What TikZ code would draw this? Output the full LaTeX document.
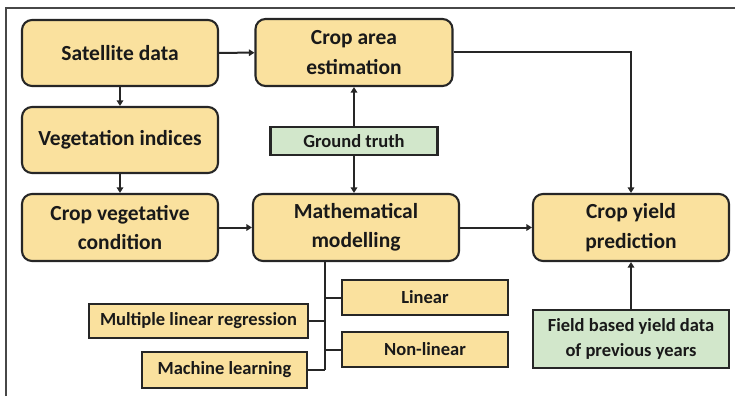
\documentclass[tikz,border=0pt]{standalone}
\usepackage{fontspec}
\setmainfont{Carlito}
\usetikzlibrary{arrows.meta}
\definecolor{boxfill}{HTML}{FAE19E}
\definecolor{gtfill}{HTML}{D2E7CB}
\definecolor{edge}{HTML}{262626}
\tikzset{
  bigbox/.style={draw=edge, line width=2.1pt, fill=boxfill, rounded corners=10pt,
    align=center, inner sep=0pt, text=black!90, font=\bfseries\fontsize{21.5}{29.5}\selectfont},
  smallbox/.style={draw=edge, line width=2.1pt, fill=boxfill, align=center,
    inner sep=0pt, text=black!90, font=\bfseries\fontsize{18.5}{25.5}\selectfont},
  greenbox/.style={smallbox, fill=gtfill},
  link/.style={draw=edge, line width=2pt},
  arr/.style={link, -{Triangle[width=6.5pt,length=5.5pt]}},
}
\begin{document}
\begin{tikzpicture}[x=1pt,y=-1pt]
\useasboundingbox (0,0) rectangle (735,396);
% frame
\draw[edge!85, line width=1.6pt] (6,396) -- (6,8) -- (735,8);

% main boxes
\node[bigbox, minimum width=196pt, minimum height=66pt] (sat) at (120,53) {Satellite data};
\node[bigbox, minimum width=197pt, minimum height=67pt] (area) at (354,52.5) {Crop area\\estimation};
\node[bigbox, minimum width=196pt, minimum height=66pt] (veg) at (120,140) {Vegetation indices};
\node[greenbox, minimum width=167pt, minimum height=28pt] (gt) at (354,141) {Ground truth};
\node[bigbox, minimum width=196pt, minimum height=67pt] (cvc) at (120,227.5) {Crop vegetative\\condition};
\node[bigbox, minimum width=206pt, minimum height=67pt] (math) at (356,227.5) {Mathematical\\modelling};
\node[bigbox, minimum width=196pt, minimum height=67pt] (yield) at (631,227.5) {Crop yield\\prediction};

% model types
\node[smallbox, minimum width=166pt, minimum height=35pt] (lin) at (425,297.5) {Linear};
\node[smallbox, minimum width=166pt, minimum height=35pt] (nonlin) at (425,349.5) {Non-linear};
\node[smallbox, minimum width=219pt, minimum height=34pt] (mlr) at (198.5,321) {Multiple linear regression};
\node[smallbox, minimum width=165pt, minimum height=36pt] (ml) at (224.5,370) {Machine learning};

\node[greenbox, minimum width=196pt, minimum height=58pt] (field) at (631,339) {Field based yield data\\of previous years};

% connectors
\draw[arr] (sat) -- (area);
\draw[arr] (sat) -- (veg);
\draw[arr] (veg) -- (cvc);
\draw[arr] (cvc) -- (math);
\draw[arr] (math) -- (yield);
\draw[arr] (gt.north) -- (area.south -| gt.north);
\draw[arr] (gt.south) -- (math.north -| gt.south);
\draw[arr] (area.east) -| (yield.north);
\draw[arr] (field) -- (yield);

% branches of the modelling methods
\coordinate (trunk) at (325,261);
\coordinate (trunkend) at (325,370);
\draw[link] (trunk) -- (trunkend);
\draw[link] (lin.west) -- (lin.west -| trunk);
\draw[link] (nonlin.west) -- (nonlin.west -| trunk);
\draw[link] (mlr.east) -- (mlr.east -| trunk);
\draw[link] (ml.east) -- (trunkend);
\end{tikzpicture}
\end{document}
